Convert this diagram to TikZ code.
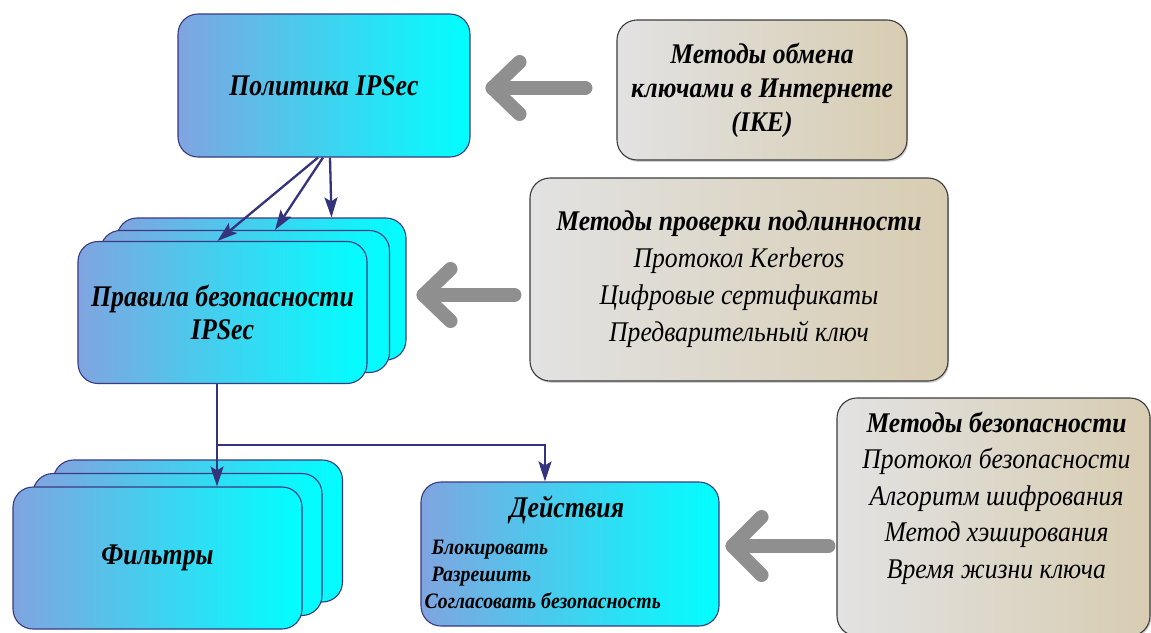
\documentclass[tikz,border=0pt]{standalone}
\usepackage{fontspec}
\setmainfont{Liberation Serif}
\newfontfamily\headfont{Liberation Serif}[FakeStretch=0.86]
\newfontfamily\bodyfont{Liberation Serif}[FakeStretch=0.9]
\usetikzlibrary{arrows.meta,calc,shadows}

\definecolor{boxblueL}{RGB}{128,164,224}
\definecolor{boxblueR}{RGB}{0,255,255}
\definecolor{boxnavy}{RGB}{58,58,128}
\definecolor{linknavy}{RGB}{52,52,125}
\definecolor{boxgrayL}{RGB}{226,226,226}
\definecolor{boxtanR}{RGB}{216,205,178}
\definecolor{boxgrayline}{RGB}{60,60,60}
\definecolor{bigarrowgray}{RGB}{143,143,143}

\tikzset{
  bluebox/.style={draw=boxnavy, line width=1.1pt, rounded corners=20pt,
    left color=boxblueL, right color=boxblueR, inner sep=0pt, align=center},
  graybox/.style={draw=boxgrayline, line width=1.1pt, rounded corners=20pt,
    left color=boxgrayL, right color=boxtanR, inner sep=0pt, align=center,
    drop shadow={shadow xshift=1.2pt, shadow yshift=-1.8pt, opacity=0.35}},
  stackbox/.style={bluebox, minimum width=289pt, minimum height=142pt},
  conn/.style={draw=linknavy, line width=2.3pt, -{Stealth[length=20pt,width=13pt,inset=4pt]}},
  bigarrow/.style={draw=bigarrowgray, line width=14pt, line cap=round, line join=round},
  headline/.style={font=\fontsize{30}{34}\headfont\bfseries\itshape},
  bodylines/.style={font=\fontsize{28.5}{37}\bodyfont\itshape, align=center, inner sep=0pt},
}

\begin{document}
\begin{tikzpicture}[x=1pt,y=-1pt]
\useasboundingbox (0,0) rectangle (1151,632);
\fill[white] (0,0) rectangle (1151,632);

% policy box
\node[bluebox, minimum width=292pt, minimum height=143pt, headline] (pol) at (324,85.5) {Политика IPSec};

% stack of security rules
\node[stackbox] (rule3) at (261.5,289) {};
\node[stackbox] (rule2) at (245,301.5) {};
\node[stackbox, headline] (rule1) at (222.5,312.5) {Правила безопасности\\[-1pt]IPSec};

% stack of filters
\node[stackbox] (filt3) at (198,531) {};
\node[stackbox] (filt2) at (177.5,544.5) {};
\node[stackbox, headline] (filt1) at (157.5,558) {Фильтры};

% actions box
\node[bluebox, minimum width=298pt, minimum height=144pt] (act) at (570,554) {};
\node[headline, inner sep=0pt] (acttitle) at ($(act.center)+(-3,-44)$) {Действия};
\node[font=\fontsize{22}{27}\bodyfont\bfseries\itshape, align=left, inner sep=0pt, anchor=west]
  (actlist) at ($(act.west)+(4,20.5)$)
  {\hspace{7pt}Блокировать\\\hspace{7pt}Разрешить\\Согласовать безопасность};

% method boxes
\node[graybox, minimum width=290pt, minimum height=140pt,
      font=\fontsize{28.5}{34}\bodyfont\bfseries\itshape] (ike) at (762,90)
  {Методы обмена\\ключами в Интернете\\(IKE)};
\node[graybox, minimum width=418pt, minimum height=203pt, bodylines] (auth) at (739,279.5)
  {{\bfseries Методы проверки подлинности}\\Протокол Kerberos\\Цифровые сертификаты\\Предварительный ключ};
\node[graybox, minimum width=313pt, minimum height=238pt] (sec) at (993.5,517) {};
\node[bodylines, font=\fontsize{28.5}{36.5}\bodyfont\itshape] (sectext) at ($(sec.center)+(3,-19)$)
  {{\bfseries Методы безопасности}\\Протокол безопасности\\Алгоритм шифрования\\Метод хэширования\\Время жизни ключа};

% policy to rules
\draw[conn] ([xshift=-6pt]pol.south) -- ([xshift=-5pt]rule1.north);
\draw[conn] ([xshift=-1pt]pol.south) -- ([xshift=30pt]rule2.north);
\draw[conn] ([xshift=6pt]pol.south) -- ([xshift=70pt]rule3.north);

% rules to filters and actions
\coordinate (split) at ($(rule1.south)+(-5.5,61)$);
\draw[conn] ([xshift=-5.5pt]rule1.south) -- (split) -- (split |- filt1.north);
\draw[conn] (split) -| ([xshift=-25pt]act.north);

% wide grey arrows from the method boxes
\coordinate (t1) at ($(pol.east)+(22,2.5)$);
\draw[bigarrow] ($(ike.west)+(-31,-2)$) -- (t1);
\draw[bigarrow] ($(t1)+(27,-26)$) -- (t1) -- ($(t1)+(27,26)$);

\coordinate (t2) at ($(rule3.east)+(17,6)$);
\draw[bigarrow] ($(auth.west)+(-15,15.5)$) -- (t2);
\draw[bigarrow] ($(t2)+(27,-26)$) -- (t2) -- ($(t2)+(27,26)$);

\coordinate (t3) at ($(act.east)+(13,-8)$);
\draw[bigarrow] ($(sec.west)+(-8,29)$) -- (t3);
\draw[bigarrow] ($(t3)+(29,-29)$) -- (t3) -- ($(t3)+(29,29)$);
\end{tikzpicture}
\end{document}
